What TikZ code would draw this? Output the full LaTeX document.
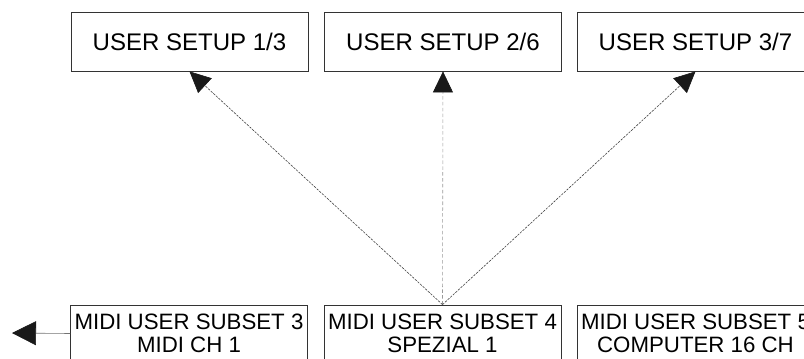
\documentclass[tikz,border=0pt]{standalone}
\usepackage{fontspec}
\setmainfont{Liberation Sans}
\usetikzlibrary{arrows.meta,positioning}

\begin{document}
\begin{tikzpicture}[
  x=0.03cm, y=-0.03cm,
  setup/.style={draw=black!80, line width=0.7pt, minimum width=7.11cm, minimum height=1.77cm, inner sep=0pt, align=center, font=\fontsize{20.5}{21}\selectfont},
  subset/.style={setup, minimum height=1.71cm, font=\fontsize{19}{19.6}\selectfont},
  link/.style={draw=black!75, line width=0.5pt, dash pattern=on 2pt off 1pt, -{Triangle[length=6.3mm,width=6mm,color=black!90]}},
  >=Stealth
]
\useasboundingbox (0,0) rectangle (804,358);
\clip (0,0) rectangle (804,358);

\node[setup] (setupA) at (189.5,41.5) {USER SETUP 1/3};
\node[setup] (setupB) at (443,41.5) {USER SETUP 2/6};
\node[setup] (setupC) at (695.5,41.5) {USER SETUP 3/7};

\node[subset] (subA) at (189,333.5) {MIDI USER SUBSET 3\\MIDI CH 1};
\node[subset] (subB) at (442.5,333.5) {MIDI USER SUBSET 4\\SPEZIAL 1};
\node[subset] (subC) at (695.5,333.5) {MIDI USER SUBSET 5\\COMPUTER 16 CH};
\coordinate (out) at (12,333);

% the three setups are all reached from the top of subset 4
\draw[link] (subB.north) -- (setupA.south);
\draw[link, draw=black!40, dash pattern=on 3pt off 2pt] (subB.north) -- (setupB.south);
\draw[link] (subB.north) -- (setupC.south);

\draw[draw=black!55, line width=0.5pt, -{Triangle[length=7.2mm,width=7.2mm,color=black!90]}] (subA.west) -- (out);
\end{tikzpicture}
\end{document}
